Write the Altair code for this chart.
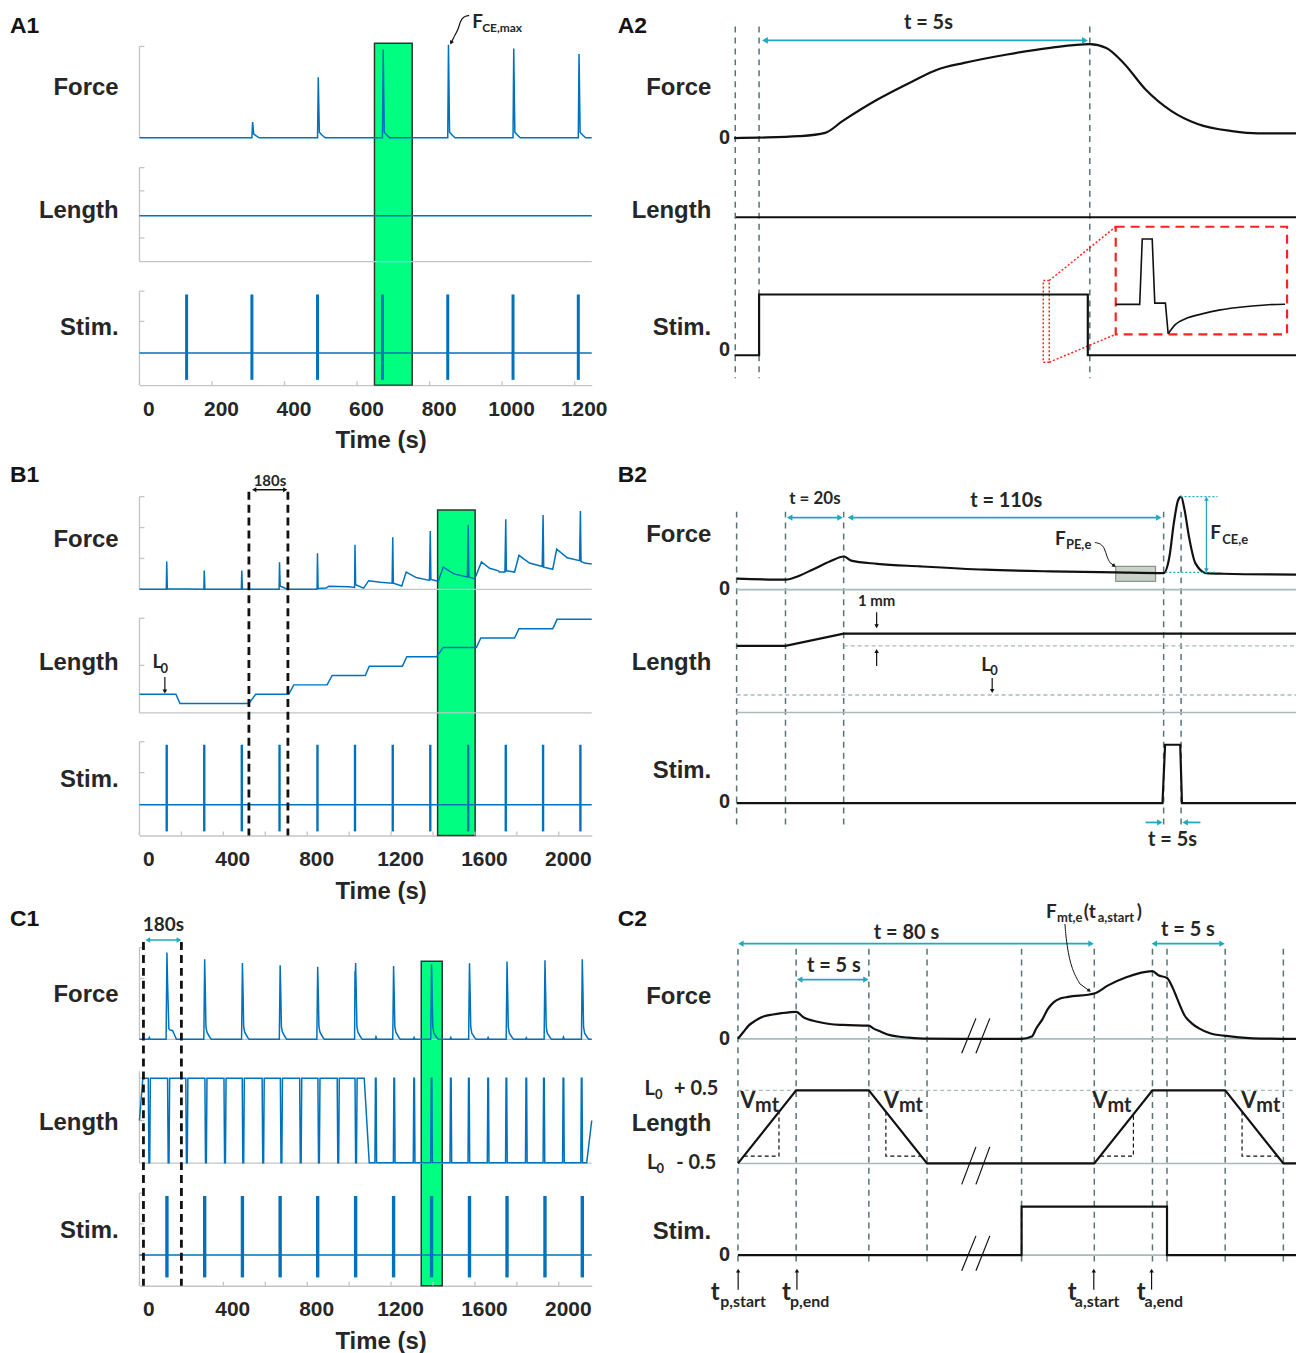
import math
import altair as alt
import pandas as pd

# ---------------------------------------------------------------- style
BLUE = "#0072BD"
GREEN = "#00FF80"
TEAL = "#1FA9C0"
GUIDE = "#5C7374"
REFL = "#A6BABA"
AXG = "#C4C4C4"
INK = "#262626"
RED = "#FF2020"
BLK = "#111111"
FONT = "Liberation Sans"
AFONT = "Lato"
H = 345
LW, RW = 454, 564

# ---------------------------------------------------------------- data
# A1 : isometric twitches, 1247 s record
A1_STIM = [130, 310, 491, 670, 850, 1030, 1210]
A1_FORCE_T = [0, 310, 312, 315, 322, 330, 491, 493, 496, 503, 512, 670, 672, 675, 682, 690,
              850, 852, 855, 862, 870, 1030, 1032, 1035, 1042, 1050, 1210, 1212, 1215, 1222, 1230, 1247]
A1_FORCE_V = [0, 0, 0.17, 0.04, 0.02, 0, 0, 0.65, 0.06, 0.03, 0, 0, 0.95, 0.06, 0.03, 0,
              0, 1.00, 0.06, 0.03, 0, 0, 0.96, 0.06, 0.03, 0, 0, 0.90, 0.06, 0.03, 0, 0]
A1_GREEN = [648, 752]
A1_TICKS = [0, 200, 400, 600, 800, 1000, 1200]

# A2 : one tetanic contraction (s)
A2_FORCE_T = [-0.377, 0.0, 0.6, 1.0, 1.26, 1.79, 2.31, 2.70, 3.10, 3.75,
              4.40, 5.00, 5.25, 5.51, 5.84, 6.23, 6.63, 7.15, 7.54, 8.118]
A2_FORCE_V = [0.0, 0.005, 0.02, 0.056, 0.18, 0.41, 0.60, 0.73, 0.80, 0.89,
              0.96, 1.00, 0.96, 0.80, 0.52, 0.29, 0.15, 0.074, 0.05, 0.05]
A2_STIM_T = [-0.37, 0, 0, 4.97, 4.97, 8.118]
A2_STIM_V = [0, 0, 1, 1, 0, 0]
A2_GUIDES = [-0.36, 0.0, 5.0]
INSET_STEP_U = [0, 0.14, 0.155, 0.213, 0.228, 0.29, 0.306]
INSET_STEP_V = [0.278, 0.278, 0.886, 0.886, 0.29, 0.29, 0.006]
INSET_REC_U = [0.306, 0.349, 0.407, 0.504, 0.61, 0.698, 0.814, 0.89, 0.988]
INSET_REC_V = [0.006, 0.093, 0.145, 0.19, 0.227, 0.247, 0.266, 0.275, 0.28]

# B1 : stepwise stretches, 2157 s record
B1_STIM = [130, 309, 488, 668, 849, 1028, 1208, 1387, 1568, 1747, 1925, 2103]
B1_FORCE_T = [0, 128, 130, 133, 307, 309, 312, 486, 488, 491, 666, 668, 671, 690, 705, 847, 849, 852,
              890, 903, 1000, 1026, 1028, 1031, 1069, 1093, 1150, 1205, 1208, 1211, 1251, 1272, 1320,
              1383, 1387, 1390, 1425, 1449, 1500, 1564, 1568, 1571, 1599, 1631, 1670, 1712, 1716, 1743,
              1747, 1750, 1789, 1810, 1860, 1921, 1925, 1928, 1971, 1990, 2040, 2099, 2103, 2106, 2122, 2157]
B1_FORCE_V = [0, 0, 0.90, 0.02, 0, 0.61, 0.01, 0, 0.61, 0.01, 0, 0.88, 0.10, 0.05, 0, 0, 1.17, 0.03,
              0.04, 0.10, 0.08, 0.06, 1.44, 0.15, 0.04, 0.28, 0.23, 0.20, 1.69, 0.20, 0.11, 0.56, 0.38,
              0.29, 1.89, 0.32, 0.26, 0.72, 0.50, 0.40, 2.09, 0.40, 0.34, 0.89, 0.68, 0.60, 0.56, 0.56,
              2.27, 0.60, 0.56, 1.10, 0.85, 0.74, 2.41, 0.72, 0.65, 1.30, 1.02, 0.93, 2.54, 0.90, 0.85, 0.82]
B1_LEN_T = [0, 174, 193, 522, 554, 712, 736, 895, 919, 1077, 1096, 1254, 1275, 1417, 1449,
            1607, 1628, 1789, 1810, 1971, 1992, 2157]
B1_LEN_V = [0, 0, -1, -1, 0, 0, 1, 1, 2, 2, 3, 3, 4, 4, 5, 5, 6, 6, 7, 7, 8, 8]
B1_DASHED = [522, 708]
B1_GREEN = [1422, 1601]
LONG_TICKS = [0, 400, 800, 1200, 1600, 2000]
LONG_MINOR = [0, 200, 400, 600, 800, 1000, 1200, 1400, 1600, 1800, 2000]

# B2 : one stretch-hold-contraction cycle (s)
B2_FORCE_T = [-16.8, 0, 4.76, 9.25, 15.2, 20.1, 22.6, 31.5, 46.4, 68.7, 91.1, 113.4, 130, 132,
              133.5, 135, 136, 137.2, 138.7, 140.9, 144.6, 150.6, 175.5]
B2_FORCE_V = [0.117, 0.106, 0.149, 0.213, 0.30, 0.354, 0.31, 0.276, 0.248, 0.213, 0.195, 0.184, 0.177,
              0.354, 0.71, 0.957, 0.993, 0.85, 0.567, 0.283, 0.177, 0.17, 0.16]
B2_LEN_T = [-16.8, 0, 20, 175.5]
B2_LEN_V = [4, 4, 5, 5]
B2_STIM_T = [-16.8, 129.6, 130.5, 135.7, 136.3, 175.5]
B2_STIM_V = [0, 0, 1, 1, 0, 0]
B2_GUIDES = [-16.8, 0, 20, 130, 136]

# C1 : cyclic ramps, 2157 s record
C1_STIM = [131, 311, 491, 671, 850, 1031, 1212, 1393, 1574, 1753, 1934, 2112]
C1_FORCE = [(0, 0), (44, 0), (47, 0.06), (51, 0),
            (127, 0), (131, 2.81), (134, 1.86), (140, 0.35), (143, 0.31), (158, 0.28), (170, 0.1), (176, 0),
            (307, 0), (311, 2.59), (314, 1.60), (317, 0.4), (322, 0.23), (336, 0.06), (343, 0),
            (487, 0), (491, 2.47), (494, 1.53), (497, 0.4), (502, 0.23), (516, 0.06), (523, 0),
            (667, 0), (671, 2.40), (674, 1.49), (677, 0.4), (682, 0.23), (696, 0.06), (703, 0),
            (846, 0), (850, 2.35), (853, 1.46), (856, 0.4), (861, 0.23), (875, 0.06), (882, 0),
            (1026, 0), (1028, 2.2), (1029, 1.9), (1031, 2.47), (1034, 1.53), (1037, 0.4), (1042, 0.23),
            (1056, 0.06), (1063, 0),
            (1125, 0), (1128, 0.08), (1132, 0),
            (1208, 0), (1212, 2.37), (1215, 1.47), (1218, 0.4), (1223, 0.23), (1237, 0.06), (1244, 0),
            (1307, 0), (1310, 0.06), (1314, 0),
            (1389, 0), (1393, 2.43), (1396, 1.51), (1399, 0.4), (1404, 0.2), (1418, 0.05), (1425, 0),
            (1482, 0), (1485, 0.06), (1489, 0),
            (1570, 0), (1574, 2.46), (1577, 1.53), (1580, 0.4), (1585, 0.2), (1599, 0.05), (1606, 0),
            (1660, 0), (1663, 0.06), (1667, 0),
            (1749, 0), (1753, 2.52), (1756, 1.56), (1759, 0.4), (1764, 0.2), (1778, 0.05), (1785, 0),
            (1842, 0), (1845, 0.05), (1849, 0),
            (1930, 0), (1934, 2.56), (1937, 1.59), (1940, 0.4), (1945, 0.2), (1959, 0.05), (1966, 0),
            (2019, 0), (2022, 0.07), (2026, 0),
            (2108, 0), (2112, 2.59), (2115, 1.61), (2118, 0.4), (2123, 0.2), (2137, 0.05), (2144, 0), (2157, 0)]
C1_DIPS = [47, 139, 226, 317, 408, 495, 590, 677, 769, 856, 948, 1033]
C1_UPS = [1127, 1215, 1310, 1393, 1485, 1571, 1663, 1750, 1845, 1929, 2022, 2109]
C1_DASHED = [19, 200]
C1_GREEN = [1344, 1444]

# C2 : schematic passive + active cycle (display seconds, axis broken)
C2_FORCE_T = [0, 0.4, 0.75, 1.2, 1.75, 2.4, 3.0, 4.0, 4.5, 5.47, 6.3, 7.24, 9.0, 9.3, 9.8, 10.23, 11.0,
              11.73, 13.0, 19.5, 20.2, 20.5, 20.96, 21.3, 21.7, 22.2, 22.7, 24.5, 25.45, 26.7, 28.5, 28.9,
              29.5, 29.9, 30.2, 30.7, 31.2, 31.7, 32.5, 33.4, 35.4, 38.37]
C2_FORCE_V = [0, 0.11, 0.2, 0.27, 0.33, 0.36, 0.38, 0.40, 0.32, 0.254, 0.22, 0.206, 0.196, 0.156, 0.11,
              0.07, 0.035, 0.019, 0.004, 0, 0.034, 0.15, 0.30, 0.44, 0.54, 0.60, 0.62, 0.67, 0.79, 0.91,
              1.0, 0.94, 0.90, 0.75, 0.595, 0.35, 0.23, 0.156, 0.08, 0.048, 0.009, 0]
C2_LEN_T = [0, 4, 9, 13, 24.5, 28.5, 33.5, 37.5, 38.37]
C2_LEN_V = [-0.5, 0.5, 0.5, -0.5, -0.5, 0.5, 0.5, -0.5, -0.5]
C2_STIM_T = [0, 19.5, 19.5, 29.5, 29.5, 38.37]
C2_STIM_V = [0, 0, 1, 1, 0, 0]
C2_GUIDES = [0, 4, 9, 13, 19.5, 24.5, 28.5, 29.5, 33.5, 37.5]
C2_VMT = [[(0.4, -0.4), (2.82, -0.4), (2.82, 0.205)],
          [(10.17, 0.2075), (10.17, -0.4), (12.6, -0.4)],
          [(24.9, -0.4), (27.19, -0.4), (27.19, 0.17)],
          [(34.66, 0.21), (34.66, -0.4), (37.1, -0.4)]]


# ---------------------------------------------------------------- panel machinery
class Panel:
    def __init__(self, left, top, width, x0, x1, rows):
        self.left, self.top, self.W = left, top, width
        self.x0, self.x1 = x0, x1
        self.pps = width / (x1 - x0)
        self.rows = rows
        self.lines = {}
        self.rects = []
        self.texts = []
        self.heads = []

    def t(self, fx):
        return self.x0 + (fx - self.left) / self.pps

    def y(self, fy):
        return fy - self.top

    def ly(self, row, v):
        z, k = self.rows[row]
        return z - v * k

    def line(self, ts, ys, color, width, dash=None, interp="linear"):
        key = (color, width, tuple(dash) if dash else (), interp)
        self.lines.setdefault(key, []).append(list(zip(ts, ys)))

    def trace(self, row, ts, vs, color, width, dash=None, interp="linear"):
        self.line(list(ts), [self.ly(row, v) for v in vs], color, width, dash, interp)

    def fline(self, pts, color, width, dash=None, interp="linear"):
        self.line([self.t(a) for a, b in pts], [self.y(b) for a, b in pts], color, width, dash, interp)

    def rect(self, t1, y1, t2, y2, **style):
        self.rects.append((dict(t=t1, y=y1, t2=t2, y2=y2), style))

    def text(self, t, y, s, fs, align="center", font=AFONT, color=INK):
        self.texts.append(dict(t=t, y=y, txt=s, fs=fs, align=align, font=font, color=color))

    def ftext(self, fx, fy, s, fs, align="center", font=AFONT, color=INK):
        self.text(self.t(fx), self.y(fy), s, fs, align, font, color)

    def arrow(self, t1, y1, t2, y2, color, width, ends=("end",), size=36):
        ax, ay = (t1 - self.x0) * self.pps, y1
        bx, by = (t2 - self.x0) * self.pps, y2
        L = math.hypot(bx - ax, by - ay)
        ux, uy = (bx - ax) / L, (by - ay) / L
        r = 0.87 * math.sqrt(size) / 2
        ang = math.degrees(math.atan2(ux, -uy))
        pa, pb = [ax, ay], [bx, by]
        if "end" in ends:
            pb = [bx - ux * r, by - uy * r]
            self.heads.append(dict(t=self.x0 + pb[0] / self.pps, y=pb[1], ang=ang % 360, col=color, sz=size))
        if "start" in ends:
            pa = [ax + ux * r, ay + uy * r]
            self.heads.append(dict(t=self.x0 + pa[0] / self.pps, y=pa[1], ang=(ang + 180) % 360, col=color, sz=size))
        self.line([self.x0 + pa[0] / self.pps, self.x0 + pb[0] / self.pps], [pa[1], pb[1]], color, width)

    def farrow(self, fx1, fy1, fx2, fy2, color, width, ends=("end",), size=36):
        self.arrow(self.t(fx1), self.y(fy1), self.t(fx2), self.y(fy2), color, width, ends, size)

    def chart(self, axis_vals=None):
        sx = alt.Scale(domain=[self.x0, self.x1], nice=False, zero=False)
        sy = alt.Scale(domain=[0, H], nice=False, zero=False, reverse=True)
        if axis_vals:
            ax = alt.Axis(values=axis_vals, title="Time (s)", format="d", labelFont=FONT, labelFontSize=21,
                          labelFontWeight="bold", labelColor=INK, labelPadding=13, labelOffset=9,
                          labelFlush=False, labelOverlap=False, titleFont=FONT, titleFontSize=24,
                          titleFontWeight="bold", titleColor=INK, titleX=242, titleY=56,
                          titleBaseline="middle", titleAlign="center", ticks=False, grid=False,
                          domainColor=AXG, domainWidth=1.5)
        else:
            ax = None
        X = alt.X("t:Q", scale=sx, axis=ax)
        Y = alt.Y("y:Q", scale=sy, axis=None)
        layers = []
        for d, st in self.rects:
            layers.append(alt.Chart(pd.DataFrame([d])).mark_rect(**st)
                          .encode(x=X, x2="t2:Q", y=Y, y2="y2:Q"))
        for (color, width, dash, interp), segs in self.lines.items():
            rows = [dict(t=t, y=y, g=g, o=o) for g, seg in enumerate(segs) for o, (t, y) in enumerate(seg)]
            kw = dict(color=color, strokeWidth=width, interpolate=interp, strokeCap="butt")
            if dash:
                kw["strokeDash"] = list(dash)
            layers.append(alt.Chart(pd.DataFrame(rows)).mark_line(**kw)
                          .encode(x=X, y=Y, detail="g:N", order="o:Q"))
        if self.heads:
            layers.append(alt.Chart(pd.DataFrame(self.heads))
                          .mark_point(shape="triangle-up", filled=True, opacity=1, strokeWidth=0)
                          .encode(x=X, y=Y, angle=alt.Angle("ang:Q", scale=None),
                                  size=alt.Size("sz:Q", scale=None), color=alt.Color("col:N", scale=None)))
        groups = {}
        for d in self.texts:
            groups.setdefault((d["align"], d["font"], d["color"]), []).append(d)
        for (align, font, color), items in groups.items():
            layers.append(alt.Chart(pd.DataFrame(items))
                          .mark_text(align=align, baseline="middle", font=font, fontWeight="bold", color=color)
                          .encode(x=X, y=Y, text="txt:N", size=alt.Size("fs:Q", scale=None)))
        return alt.layer(*layers).properties(width=self.W, height=H)


def left_axes(P, spans, bottoms, xticks):
    tk = 5 / P.pps
    for y1, y2, ticks in spans:
        P.line([P.x0, P.x0], [y1, y2], AXG, 1.3)
        for yt in ticks:
            P.line([P.x0, P.x0 + tk], [yt, yt], AXG, 1.3)
    for yb in bottoms:
        P.line([P.x0, P.x1], [yb, yb], AXG, 1.3)
    for xt in xticks:
        P.line([xt, xt], [H, H - 4], AXG, 1.3)


def labels(P, fx_right, letter, fx_letter, fy_letter, items):
    for s, fy in items:
        P.ftext(fx_right, fy, s, 24, "right", FONT)
    P.ftext(fx_letter, fy_letter, letter, 23, "left", FONT, "#141414")


def guides(P, ts, fy1, fy2):
    for tg in ts:
        P.line([tg, tg], [P.y(fy1), P.y(fy2)], GUIDE, 1.5, dash=[6, 5])


# ---------------------------------------------------------------- A1
A1 = Panel(140, 40, LW, 0, 1247, {"F": (96.7, 93.4), "L": (175.0, 24.0), "S": (312.7, 58.7)})
A1.rect(A1_GREEN[0], 1.7, A1_GREEN[1], H, fill=GREEN, stroke="#333333", strokeWidth=1.5)
left_axes(A1, [(5, 96.7, [5]), (126.7, 221, [126.7, 150, 197.3]), (250.7, H, [250.7, 281])], [221], A1_TICKS)
A1.trace("F", A1_FORCE_T, A1_FORCE_V, BLUE, 1.5)
A1.trace("L", [0, 1247], [0, 0], BLUE, 1.5)
A1.trace("S", [0, 1247], [0, 0], BLUE, 1.5)
for ts in A1_STIM:
    A1.trace("S", [ts, ts], [-0.46, 1.0], BLUE, 3)
labels(A1, 119, "A1", 10, 25, [("Force", 87), ("Length", 210), ("Stim.", 328)])
A1.ftext(474, 20, "F", 19, "left")
A1.ftext(484, 27, "CE,max", 12, "left")
A1.fline([(471, 14), (465, 15), (462, 20), (460, 28), (456, 35)], BLK, 1.2, interp="basis")
A1.farrow(456, 35, 452, 43, BLK, 1.2, size=20)

# ---------------------------------------------------------------- A2
A2 = Panel(737, 40, RW, -0.3765, 8.118, {"F": (97.0, 94.3), "L": (176.5, 20.0), "S": (315.0, 61.0)})
guides(A2, A2_GUIDES, 25, 378)
A2.rect(A2.t(1120), A2.y(226), A2.t(1292), A2.y(334), fillOpacity=0, stroke=RED, strokeWidth=2.2, strokeDash=[9, 6])
A2.rect(A2.t(1047.3), A2.y(280), A2.t(1053.3), A2.y(362), fillOpacity=0, stroke=RED, strokeWidth=1.5, strokeDash=[2, 2])
A2.fline([(1053.3, 280), (1120, 226)], RED, 1.5, dash=[2, 2])
A2.fline([(1053.3, 362), (1120, 334)], RED, 1.5, dash=[2, 2])
A2.trace("F", A2_FORCE_T, A2_FORCE_V, BLK, 2.2, interp="monotone")
A2.trace("L", [-0.352, 8.118], [0, 0], BLK, 2.2)
A2.trace("S", A2_STIM_T, A2_STIM_V, BLK, 2.2)
A2.fline([(1120 + u * 172, 334 - v * 108) for u, v in zip(INSET_STEP_U, INSET_STEP_V)], BLK, 1.6)
A2.fline([(1120 + u * 172, 334 - v * 108) for u, v in zip(INSET_REC_U, INSET_REC_V)], BLK, 1.6, interp="monotone")
labels(A2, 714, "A2", 620, 25, [("Force", 87), ("Length", 210), ("Stim.", 328)])
A2.ftext(733, 137, "0", 20, "right", FONT)
A2.ftext(733, 350, "0", 20, "right", FONT)
A2.ftext(932, 22, "t = 5s", 20)
A2.farrow(765, 39, 1092, 39, TEAL, 1.8, ends=("start", "end"), size=45)

# ---------------------------------------------------------------- B1
B1 = Panel(140, 490, LW, 0, 2157, {"F": (98.0, 31.0), "L": (203.3, 9.4), "S": (314.3, 60.3)})
B1.rect(B1_GREEN[0], 18.3, B1_GREEN[1], H, fill=GREEN, stroke="#333333", strokeWidth=1.5)
left_axes(B1, [(5, 98, [5, 36, 67]), (127, 222, [127, 174.3]), (251, H, [251, 282])], [98, 222], LONG_MINOR)
B1.trace("F", B1_FORCE_T, B1_FORCE_V, BLUE, 1.5)
B1.trace("L", B1_LEN_T, B1_LEN_V, BLUE, 1.5)
B1.trace("S", [0, 2157], [0, 0], BLUE, 1.5)
for ts in B1_STIM:
    B1.trace("S", [ts, ts], [-0.443, 1.0], BLUE, 2.4)
for td in B1_DASHED:
    B1.line([td, td], [0, H], BLK, 2.8, dash=[8, 5])
labels(B1, 119, "B1", 10, 473, [("Force", 538), ("Length", 662), ("Stim.", 779)])
B1.ftext(271, 479, "180s", 15)
B1.farrow(253, 488, 288.5, 488, BLK, 1.5, ends=("start", "end"), size=25)
B1.ftext(153, 661, "L", 19, "left")
B1.ftext(161, 668, "0", 13, "left")
B1.farrow(165.5, 676, 165.5, 692.5, BLK, 1.2, size=22)

# ---------------------------------------------------------------- B2
B2 = Panel(737, 490, RW, -17.64, 175.51, {"F": (98.3, 94.0), "L": (204.0, 12.3), "S": (312.7, 58.7)})
guides(B2, B2_GUIDES, 510, 825)
B2.rect(B2.t(1120), B2.y(565), B2.t(1160), B2.y(580), fill="#C9D2C9", stroke="#8A968A", strokeWidth=1.2)
B2.trace("F", [-16.8, 175.51], [0, 0], REFL, 1.6)
B2.line([-16.8, 175.51], [221.7, 221.7], REFL, 1.6)
B2.trace("L", [-16.8, 175.51], [0, 0], REFL, 1.4, dash=[4, 3])
B2.trace("L", [20, 175.51], [4, 4], REFL, 1.4, dash=[4, 3])
B2.trace("F", B2_FORCE_T, B2_FORCE_V, BLK, 2.2, interp="monotone")
B2.trace("L", B2_LEN_T, B2_LEN_V, BLK, 2.2)
B2.trace("S", B2_STIM_T, B2_STIM_V, BLK, 2.2)
B2.trace("F", [135.8, 148.5], [0.993, 0.993], TEAL, 1.2, dash=[2, 2])
B2.trace("F", [130.6, 148.5], [0.184, 0.184], TEAL, 1.2, dash=[2, 2])
B2.arrow(144.7, B2.ly("F", 0.993), 144.7, B2.ly("F", 0.184), TEAL, 1.2, ends=("start", "end"), size=22)
labels(B2, 714, "B2", 620, 473, [("Force", 533), ("Length", 662), ("Stim.", 770)])
B2.ftext(733, 588, "0", 20, "right", FONT)
B2.ftext(733, 802, "0", 20, "right", FONT)
B2.ftext(1215, 531, "F", 19, "left")
B2.ftext(1227, 538, "CE,e", 13, "left")
B2.ftext(1059, 537, "F", 19, "left")
B2.ftext(1070, 544, "PE,e", 13, "left")
B2.fline([(1099, 541), (1105, 542), (1109, 547), (1111, 555), (1114, 561)], BLK, 1.0, interp="basis")
B2.farrow(1114, 561, 1120, 565.5, BLK, 1.0, size=18)
B2.ftext(818, 497, "t = 20s", 17)
B2.farrow(790, 516, 846, 516, TEAL, 1.8, ends=("start", "end"), size=40)
B2.ftext(1010, 499, "t = 110s", 20)
B2.farrow(851, 516, 1166, 516, TEAL, 1.8, ends=("start", "end"), size=40)
B2.ftext(880, 600, "1 mm", 15)
B2.farrow(880, 611, 880, 627, BLK, 1.2, size=20)
B2.farrow(880, 665, 880, 648, BLK, 1.2, size=20)
B2.ftext(985, 664, "L", 19, "left")
B2.ftext(994, 670, "0", 13, "left")
B2.farrow(996, 677, 996, 692, BLK, 1.2, size=20)
B2.farrow(1150, 822, 1167, 822, TEAL, 1.8, size=40)
B2.farrow(1205, 822, 1187, 822, TEAL, 1.8, size=40)
B2.ftext(1177, 840, "t = 5s", 20)

# ---------------------------------------------------------------- C1
C1 = Panel(140, 940, LW, 0, 2157, {"F": (97.7, 31.0), "L": (179.2, 85.0), "S": (314.3, 59.3)})
C1.rect(C1_GREEN[0], 19.3, C1_GREEN[1], H, fill=GREEN, stroke="#333333", strokeWidth=1.5)
left_axes(C1, [(5.7, 97.7, [5.7, 36.7, 67.7]), (130, 222, [136.7, 179.3]), (252, H, [252, 283])],
          [97.7, 222], LONG_MINOR)
C1.trace("F", [p[0] for p in C1_FORCE], [p[1] for p in C1_FORCE], BLUE, 1.5)
c1_len_t, c1_len_v = [0, 16], [0, 0.5]
for c in C1_DIPS:
    c1_len_t += [c - 5, c - 2, c + 2, c + 5]
    c1_len_v += [0.5, -0.5, -0.5, 0.5]
c1_len_t += [1072, 1096]
c1_len_v += [0.5, -0.5]
for c in C1_UPS:
    c1_len_t += [c - 4, c - 1.5, c + 1.5, c + 4]
    c1_len_v += [-0.5, 0.5, 0.5, -0.5]
c1_len_t += [2133, 2157]
c1_len_v += [-0.5, 0]
C1.trace("L", c1_len_t, c1_len_v, BLUE, 1.5)
C1.trace("S", [0, 2157], [0, 0], BLUE, 1.5)
for ts in C1_STIM:
    C1.trace("S", [ts, ts], [-0.378, 1.0], BLUE, 3.4)
for td in C1_DASHED:
    C1.line([td, td], [0, H], BLK, 2.8, dash=[8, 5])
labels(C1, 119, "C1", 10, 917, [("Force", 993), ("Length", 1122), ("Stim.", 1230)])
C1.ftext(164, 923, "180s", 19)
C1.farrow(146, 938, 182, 938, TEAL, 1.5, ends=("start", "end"), size=30)

# ---------------------------------------------------------------- C2
C2 = Panel(737, 940, RW, -0.26, 38.37, {"F": (97.3, 68.0), "L": (185.65, 73.3), "S": (314.3, 48.6)})
guides(C2, C2_GUIDES, 946.7, 1263.3)
C2.trace("F", [0, 38.37], [0, 0], REFL, 1.6)
C2.trace("L", [0, 38.37], [-0.5, -0.5], REFL, 1.6)
C2.trace("S", [0, 38.37], [0, 0], REFL, 1.6)
C2.trace("L", [0, 38.37], [0.5, 0.5], REFL, 1.4, dash=[4, 3])
C2.trace("F", C2_FORCE_T, C2_FORCE_V, BLK, 2.2, interp="monotone")
C2.trace("L", C2_LEN_T, C2_LEN_V, BLK, 2.2)
C2.trace("S", C2_STIM_T, C2_STIM_V, BLK, 2.2)
for tri in C2_VMT:
    C2.trace("L", [p[0] for p in tri], [p[1] for p in tri], BLK, 1.2, dash=[4, 3])
for ya, yb in [(1051.7, 1016.7), (1183.3, 1145.7), (1270, 1235)]:
    C2.fline([(965.4, ya), (979.7, yb)], BLK, 1.2)
    C2.fline([(979.7, ya), (993.6, yb)], BLK, 1.2)
labels(C2, 714, "C2", 620, 917, [("Force", 995), ("Length", 1123), ("Stim.", 1231)])
C2.ftext(733, 1037, "0", 20, "right", FONT)
C2.ftext(733, 1254, "0", 20, "right", FONT)
for vx, mx in [(743, 758), (887.2, 902.4), (1096.5, 1111.7), (1246, 1261.2)]:
    C2.ftext(vx, 1099.5, "V", 22, "left")
    C2.ftext(mx, 1104.5, "mt", 20, "left")
C2.ftext(647, 1088, "L", 20, "left")
C2.ftext(657.5, 1094, "0", 13, "left")
C2.ftext(721, 1088, "+ 0.5", 20, "right")
C2.ftext(649.5, 1162, "L", 20, "left")
C2.ftext(659, 1168, "0", 13, "left")
C2.ftext(719, 1162, "- 0.5", 20, "right")
C2.ftext(910, 931, "t = 80 s", 20)
C2.farrow(741, 941.7, 1098, 941.7, TEAL, 1.8, ends=("start", "end"), size=40)
C2.ftext(837, 964, "t = 5 s", 20)
C2.farrow(800, 977.7, 872, 977.7, TEAL, 1.8, ends=("start", "end"), size=40)
C2.ftext(1192.5, 928, "t = 5 s", 20)
C2.farrow(1156, 941.7, 1229.5, 941.7, TEAL, 1.8, ends=("start", "end"), size=40)
C2.ftext(1050, 910, "F", 19, "left")
C2.ftext(1061, 916, "mt,e", 13, "left")
C2.ftext(1088, 910, "(t", 19, "left")
C2.ftext(1102, 916, "a,start", 13, "left")
C2.ftext(1141, 910, ")", 19, "left")
C2.fline([(1069, 922), (1071, 945), (1076, 968), (1084, 982)], BLK, 1.0, interp="basis")
C2.farrow(1084, 982, 1095, 990, BLK, 1.0, size=18)
for fx in [741, 800, 1098, 1156]:
    C2.farrow(fx, 1289, fx, 1268, BLK, 1.2, size=20)
for sub, tx, sx in [("p,start", 713.4, 723), ("p,end", 785, 793), ("a,start", 1071.8, 1079), ("a,end", 1141, 1149)]:
    C2.ftext(tx, 1292, "t", 24, "left")
    C2.ftext(sx, 1301, sub, 16, "left")

# ---------------------------------------------------------------- assemble (2-column grid, cells laid out by their own size)
chart = (alt.concat(A1.chart(A1_TICKS), A2.chart(), B1.chart(LONG_TICKS), B2.chart(),
                    C1.chart(LONG_TICKS), C2.chart(),
                    columns=2, spacing={"row": 107, "column": 143}, bounds="flush", align="each")
         .properties(padding={"left": 10, "top": 10, "right": 0, "bottom": 0})
         .configure_view(strokeWidth=0))
chart.save("out.html", embed_options={"renderer": "svg", "actions": False})
